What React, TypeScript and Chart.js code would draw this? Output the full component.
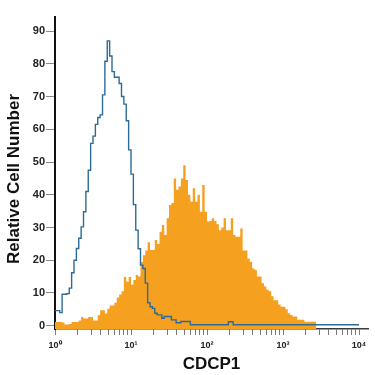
import { useEffect, useRef } from 'react';
import { Chart, registerables } from 'chart.js';

Chart.register(...registerables);

// Histogram channels: 32 channels per decade, starting at 10^0
const CHANNELS_PER_DECADE = 32;

// Control (outline) histogram counts per channel
const controlCounts = [
  4.6, 4.6, 4.6, 4.0, 9.6, 9.6, 9.8, 11.5, 16.2, 20.0,
  23.6, 26.7, 30.2, 34.8, 41.0, 47.5, 55.7, 57.9, 61.5, 63.6,
  64.4, 70.5, 80.8, 87.0, 82.4, 77.6, 75.9, 75.9, 74.0, 70.0,
  67.7, 62.6, 53.7, 46.3, 37.0, 29.2, 23.5, 18.5, 17.5, 13.0,
  7.0, 5.8, 5.3, 3.8, 3.3, 3.3, 2.3, 2.8, 2.8, 2.8,
  1.8, 1.8, 0.9, 0.9, 1.3, 1.3, 1.3, 1.3, 0.3, 0.3,
  0.3, 0.3, 0.3, 0.3, 0.3, 0.3, 0.3, 0.3, 0.3, 0.3,
  0.3, 0.3, 0.3, 0.3, 1.2, 1.2, 0.3, 0.3, 0.3, 0.3,
  0.3, 0.3, 0.3, 0.3, 0.3, 0.3, 0.3, 0.3, 0.3, 0.3,
  0.3, 0.3, 0.3, 0.3, 0.3, 0.3, 0.3, 0.3, 0.3, 0.3,
  0.3, 0.3, 0.3, 0.3, 0.3, 0.3, 0.3, 0.3, 0.3, 0.3,
  0.3, 0.3, 0.3, 0.3, 0.3, 0.3, 0.3, 0.3, 0.3, 0.3,
  0.3, 0.3, 0.3, 0.3, 0.3, 0.3, 0.3, 0.3,
];

// CDCP1-stained (filled) histogram counts per channel
const cdcp1Counts = [
  0.8, 1.1, 1.1, 1.1, 1.0, 0.4, 0.4, 0.5, 1.1, 1.1,
  1.1, 1.6, 2.7, 2.2, 2.2, 2.7, 2.7, 1.6, 1.6, 3.2,
  4.7, 4.7, 3.7, 5.2, 6.2, 6.2, 7.0, 8.6, 9.5, 10.5,
  14.9, 13.4, 14.9, 12.5, 14.0, 15.5, 15.0, 19.5, 21.5, 23.0,
  25.5, 23.1, 23.1, 26.2, 25.0, 28.7, 30.8, 27.7, 32.8, 36.9,
  37.5, 45.0, 41.5, 42.5, 45.0, 49.0, 44.5, 40.0, 37.9, 42.0,
  37.9, 40.0, 34.8, 43.0, 34.8, 31.8, 32.0, 32.8, 32.0, 31.0,
  29.2, 30.0, 32.8, 29.2, 29.2, 32.8, 27.7, 27.2, 27.2, 29.7,
  23.0, 23.0, 20.5, 19.5, 17.5, 17.0, 15.0, 15.0, 13.0, 12.0,
  11.0, 10.5, 9.0, 7.8, 7.8, 6.5, 5.8, 5.8, 5.0, 3.8,
  3.3, 2.8, 2.8, 1.8, 1.8, 1.8, 1.2, 1.2, 1.2, 1.2,
];

const yTickValues = [0, 10, 20, 30, 40, 50, 60, 70, 80, 90];
const xDecades = [1, 10, 100, 1000, 10000];
const xDecadeLabels = ['10\u2070', '10\u00B9', '10\u00B2', '10\u00B3', '10\u2074'];
const xMinorMultipliers = [2, 3, 4, 5, 6, 7, 8, 9];
const yTitle = 'Relative Cell Number';
const xTitle = 'CDCP1';

const FONT = '"Liberation Sans", Arial, Helvetica, sans-serif';

function toSteps(counts: number[]) {
  const pts = counts.map((c, i) => ({ x: Math.pow(10, i / CHANNELS_PER_DECADE), y: c }));
  pts.push({ x: Math.pow(10, counts.length / CHANNELS_PER_DECADE), y: counts[counts.length - 1] });
  return pts;
}

function xTickValues() {
  const vals: number[] = [];
  xDecades.forEach((d, i) => {
    vals.push(d);
    if (i < xDecades.length - 1) xMinorMultipliers.forEach((m) => vals.push(d * m));
  });
  return vals;
}

// Draws the rotated y-axis title slightly below the chart-area centre, as in the reference
const yTitlePlugin = {
  id: 'yTitlePlugin',
  afterDraw(chart: any) {
    const { ctx, chartArea } = chart;
    ctx.save();
    ctx.font = `bold 17px ${FONT}`;
    ctx.fillStyle = '#111';
    ctx.textAlign = 'center';
    ctx.textBaseline = 'middle';
    ctx.translate(14, (chartArea.top + chartArea.bottom) / 2 + 6);
    ctx.rotate(-Math.PI / 2);
    ctx.fillText(yTitle, 0, 0);
    ctx.restore();
  },
};

export default function App() {
  const ref = useRef<HTMLCanvasElement | null>(null);

  useEffect(() => {
    if (!ref.current) return;
    Chart.defaults.font.family = FONT;
    const chart = new Chart(ref.current, {
      type: 'line',
      data: {
        datasets: [
          {
            label: 'Control',
            data: toSteps(controlCounts),
            stepped: 'after',
            borderColor: '#2e6a96',
            borderWidth: 1.4,
            pointRadius: 0,
            fill: false,
          },
          {
            label: 'CDCP1',
            data: toSteps(cdcp1Counts),
            stepped: 'after',
            borderColor: '#F6A020',
            backgroundColor: '#F6A020',
            borderWidth: 0,
            pointRadius: 0,
            fill: 'start',
          },
        ],
      },
      plugins: [yTitlePlugin],
      options: {
        animation: false,
        responsive: true,
        maintainAspectRatio: false,
        layout: { padding: { top: 17, right: 7, left: 0, bottom: 0 } },
        plugins: { legend: { display: false }, tooltip: { enabled: false } },
        scales: {
          x: {
            type: 'logarithmic',
            min: 1,
            max: 13130,
            afterBuildTicks: (scale: any) => {
              scale.ticks = xTickValues().map((v) => ({ value: v }));
            },
            afterFit: (scale: any) => {
              scale.height = 46;
            },
            grid: {
              display: true,
              drawOnChartArea: false,
              drawTicks: true,
              tickLength: 6,
              color: '#7a7a7a',
              lineWidth: 1,
            },
            border: { display: true, color: '#3a3a3a', width: 1.5 },
            ticks: {
              autoSkip: false,
              maxRotation: 0,
              minRotation: 0,
              padding: 5,
              color: '#222',
              font: { family: FONT, size: 9, weight: 'bold' },
              callback: (value: any) => {
                const idx = xDecades.indexOf(Number(value));
                return idx >= 0 ? xDecadeLabels[idx] : '';
              },
            },
            title: {
              display: true,
              text: xTitle,
              color: '#111',
              font: { family: FONT, size: 17, weight: 'bold' },
              padding: { top: 5, bottom: 0 },
            },
          },
          y: {
            type: 'linear',
            min: -1,
            max: 94.3,
            afterBuildTicks: (scale: any) => {
              scale.ticks = yTickValues.map((v) => ({ value: v }));
            },
            afterFit: (scale: any) => {
              scale.width = 55;
            },
            grid: {
              display: true,
              drawOnChartArea: false,
              drawTicks: true,
              tickLength: 9,
              color: '#8a8a8a',
              lineWidth: 1,
            },
            border: { display: true, color: '#111', width: 2 },
            ticks: {
              padding: 1,
              color: '#222',
              font: { family: FONT, size: 11, weight: 'bold' },
            },
            title: { display: false },
          },
        },
      },
    } as any);
    return () => chart.destroy();
  }, []);

  return (
    <div style={{ position: 'absolute', left: 0, top: 0, width: 375, height: 375, background: '#fff' }}>
      <canvas ref={ref} />
    </div>
  );
}
